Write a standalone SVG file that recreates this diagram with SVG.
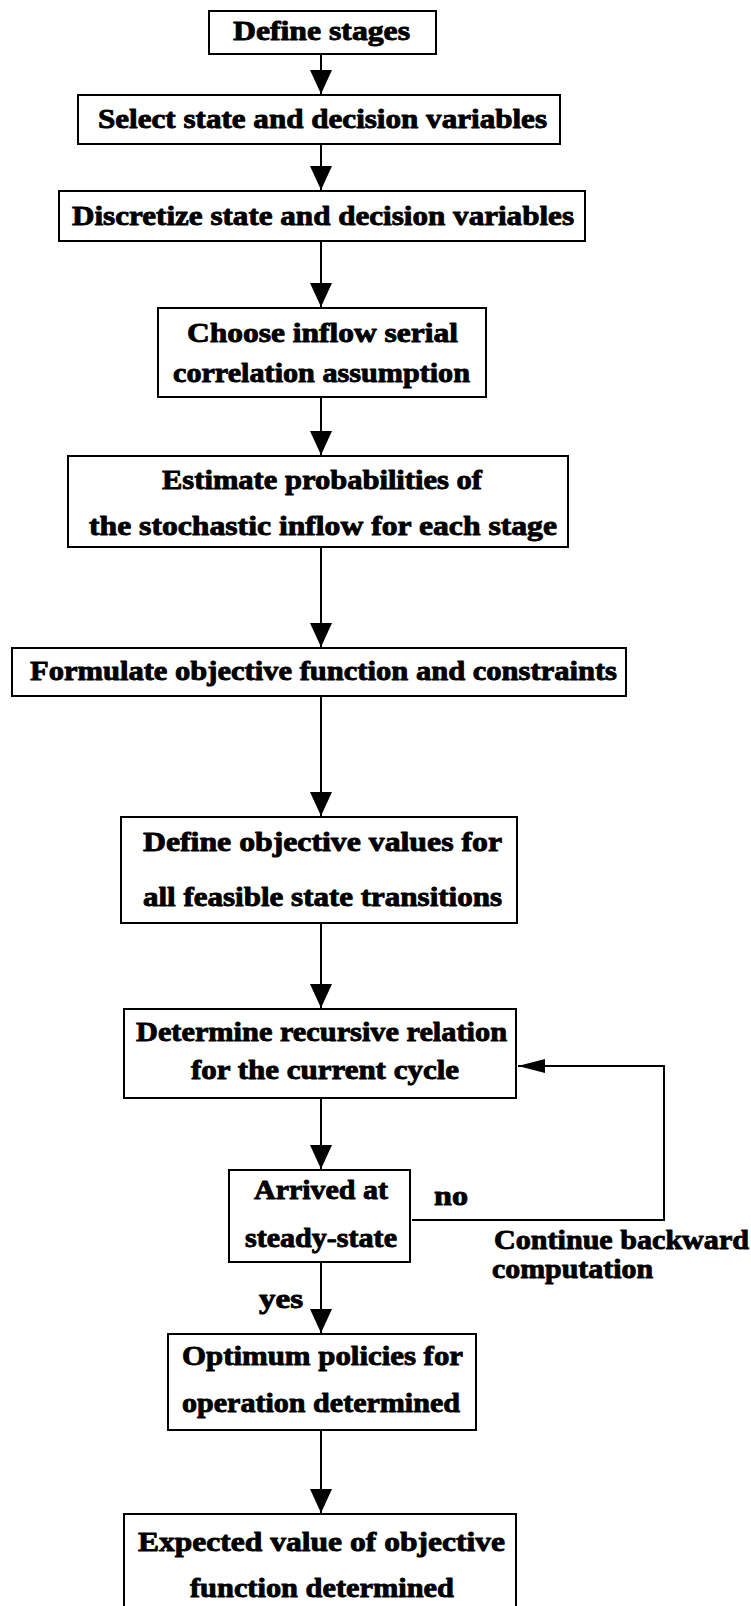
<svg xmlns="http://www.w3.org/2000/svg" width="751" height="1606" viewBox="0 0 751 1606">
<style>
.box{fill:#fff;stroke:#000;stroke-width:2}
.t{font-family:"Liberation Serif","Times New Roman",serif;font-weight:bold;font-size:28px;fill:#000;stroke:#000;stroke-width:0.9;stroke-linejoin:round}
.c{fill:none;stroke:#000;stroke-width:2}
</style>
<defs>
<marker id="ah" markerUnits="userSpaceOnUse" markerWidth="24" markerHeight="22" viewBox="0 0 24 22" refX="24" refY="11" orient="auto">
<path d="M0,0 L24,11 L0,22 z" fill="#000"/>
</marker>
<marker id="ahs" markerUnits="userSpaceOnUse" markerWidth="27" markerHeight="14" viewBox="0 0 27 14" refX="27" refY="7" orient="auto">
<path d="M0,0 L27,7 L0,14 z" fill="#000"/>
</marker>
</defs>
<rect width="751" height="1606" fill="#fff"/>
<g id="connectors">
<line class="c" x1="321" y1="54" x2="321" y2="94" marker-end="url(#ah)"/>
<line class="c" x1="321" y1="144" x2="321" y2="190" marker-end="url(#ah)"/>
<line class="c" x1="321" y1="241" x2="321" y2="307" marker-end="url(#ah)"/>
<line class="c" x1="321" y1="397" x2="321" y2="455" marker-end="url(#ah)"/>
<line class="c" x1="321" y1="547" x2="321" y2="647" marker-end="url(#ah)"/>
<line class="c" x1="321" y1="696" x2="321" y2="816" marker-end="url(#ah)"/>
<line class="c" x1="321" y1="923" x2="321" y2="1008" marker-end="url(#ah)"/>
<line class="c" x1="321" y1="1098" x2="321" y2="1169" marker-end="url(#ah)"/>
<line class="c" x1="321" y1="1262" x2="321" y2="1333" marker-end="url(#ah)"/>
<line class="c" x1="321" y1="1430" x2="321" y2="1513" marker-end="url(#ah)"/>
<polyline class="c" points="412,1220 664,1220 664,1066 518,1066" marker-end="url(#ahs)"/>
</g>
<g id="n1"><rect class="box" x="209" y="11" width="227" height="43"/>
<text class="t" x="233" y="40" textLength="177" lengthAdjust="spacingAndGlyphs">Define stages</text></g>
<g id="n2"><rect class="box" x="78" y="95" width="482" height="49"/>
<text class="t" x="98" y="128" textLength="449" lengthAdjust="spacingAndGlyphs">Select state and decision variables</text></g>
<g id="n3"><rect class="box" x="59" y="191" width="526" height="50"/>
<text class="t" x="72" y="225" textLength="502" lengthAdjust="spacingAndGlyphs">Discretize state and decision variables</text></g>
<g id="n4"><rect class="box" x="158" y="308" width="328" height="89"/>
<text class="t" x="187" y="342" textLength="271" lengthAdjust="spacingAndGlyphs">Choose inflow serial</text>
<text class="t" x="173" y="382" textLength="297" lengthAdjust="spacingAndGlyphs">correlation assumption</text></g>
<g id="n5"><rect class="box" x="68" y="456" width="500" height="91"/>
<text class="t" x="162" y="489" textLength="320" lengthAdjust="spacingAndGlyphs">Estimate probabilities of</text>
<text class="t" x="89" y="535" textLength="468" lengthAdjust="spacingAndGlyphs">the stochastic inflow for each stage</text></g>
<g id="n6"><rect class="box" x="12" y="648" width="614" height="48"/>
<text class="t" x="30" y="680" textLength="587" lengthAdjust="spacingAndGlyphs">Formulate objective function and constraints</text></g>
<g id="n7"><rect class="box" x="121" y="817" width="396" height="106"/>
<text class="t" x="143" y="851" textLength="359" lengthAdjust="spacingAndGlyphs">Define objective values for</text>
<text class="t" x="143" y="906" textLength="359" lengthAdjust="spacingAndGlyphs">all feasible state transitions</text></g>
<g id="n8"><rect class="box" x="124" y="1009" width="392" height="89"/>
<text class="t" x="136" y="1041" textLength="371" lengthAdjust="spacingAndGlyphs">Determine recursive relation</text>
<text class="t" x="191" y="1079" textLength="268" lengthAdjust="spacingAndGlyphs">for the current cycle</text></g>
<g id="n9"><rect class="box" x="229" y="1170" width="181" height="92"/>
<text class="t" x="254" y="1199" textLength="134" lengthAdjust="spacingAndGlyphs">Arrived at</text>
<text class="t" x="245" y="1247" textLength="152" lengthAdjust="spacingAndGlyphs">steady-state</text></g>
<g id="labels">
<text class="t" x="434" y="1205" textLength="34" lengthAdjust="spacingAndGlyphs">no</text>
<text class="t" x="494" y="1249" textLength="255" lengthAdjust="spacingAndGlyphs">Continue backward</text>
<text class="t" x="492" y="1278" textLength="161" lengthAdjust="spacingAndGlyphs">computation</text>
<text class="t" x="259" y="1308" textLength="44" lengthAdjust="spacingAndGlyphs">yes</text>
</g>
<g id="n10"><rect class="box" x="168" y="1334" width="308" height="96"/>
<text class="t" x="182" y="1365" textLength="281" lengthAdjust="spacingAndGlyphs">Optimum policies for</text>
<text class="t" x="182" y="1412" textLength="278" lengthAdjust="spacingAndGlyphs">operation determined</text></g>
<g id="n11"><rect class="box" x="124" y="1514" width="392" height="100"/>
<text class="t" x="138" y="1551" textLength="367" lengthAdjust="spacingAndGlyphs">Expected value of objective</text>
<text class="t" x="190" y="1597" textLength="264" lengthAdjust="spacingAndGlyphs">function determined</text></g>
</svg>
